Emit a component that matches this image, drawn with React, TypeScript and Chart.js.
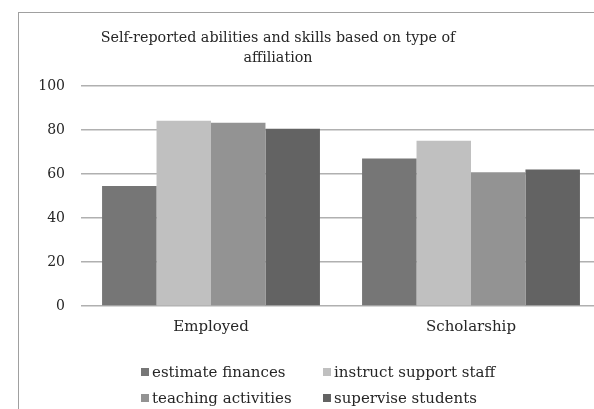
import React, { useEffect, useRef } from "react";
import { Chart, registerables } from "chart.js";

Chart.register(...registerables);

const categories = ["Employed", "Scholarship"];
const seriesNames = [
  "estimate finances",
  "instruct support staff",
  "teaching activities",
  "supervise students",
];
const estimateFinances = [54.5, 67.1];
const instructSupportStaff = [84.2, 75.1];
const teachingActivities = [83.3, 60.8];
const superviseStudents = [80.6, 62.1];
const seriesColors = ["#767676", "#c0c0c0", "#939393", "#636363"];
const titleLines = ["Self-reported abilities and skills based on type of", "affiliation"];
const yMin = 0;
const yMax = 100;
const yStep = 20;

const FONT = '"DejaVu Serif", serif';
const TEXT = "#262626";

const overlayPlugin = {
  id: "overlay",
  afterDraw(chart: any) {
    const ctx = chart.ctx;
    ctx.save();
    ctx.font = `14.3px ${FONT}`;
    ctx.fillStyle = TEXT;
    ctx.textAlign = "center";
    ctx.textBaseline = "alphabetic";
    titleLines.forEach((l, i) => ctx.fillText(l, 259, 28.5 + i * 20.5));
    const colX = [122, 304];
    const rowY = [359, 385];
    ctx.font = `15px ${FONT}`;
    chart.data.datasets.forEach((ds: any, i: number) => {
      const x = colX[i % 2];
      const y = rowY[Math.floor(i / 2)];
      ctx.fillStyle = ds.backgroundColor;
      ctx.fillRect(x, y - 4, 8, 8);
      ctx.fillStyle = TEXT;
      ctx.textAlign = "left";
      ctx.textBaseline = "middle";
      ctx.fillText(ds.label, x + 11, y + 1);
    });
    ctx.restore();
  },
};

export default function App() {
  const ref = useRef<HTMLCanvasElement>(null);
  useEffect(() => {
    if (!ref.current) return;
    const seriesData = [estimateFinances, instructSupportStaff, teachingActivities, superviseStudents];
    const chart = new Chart(ref.current, {
      type: "bar",
      data: {
        labels: categories,
        datasets: seriesNames.map((name, i) => ({
          label: name,
          data: seriesData[i],
          backgroundColor: seriesColors[i],
          borderWidth: 0,
          categoryPercentage: 0.838,
          barPercentage: 1,
        })),
      },
      options: {
        animation: false,
        responsive: false,
        devicePixelRatio: 1,
        layout: { padding: { left: 0, top: 73, right: 38, bottom: 0 } },
        plugins: {
          legend: { display: false },
          title: { display: false },
          tooltip: { enabled: false },
        },
        scales: {
          x: {
            grid: { display: false, drawTicks: false },
            border: { display: false },
            ticks: { color: TEXT, font: { family: FONT, size: 15 }, padding: 12 },
            afterFit: (s: any) => {
              s.height = 103;
            },
          },
          y: {
            min: yMin,
            max: yMax,
            grid: { color: "#b0b0b0", lineWidth: 1.5, drawTicks: false },
            border: { display: false },
            ticks: { stepSize: yStep, color: TEXT, font: { family: FONT, size: 14 }, padding: 16 },
            afterFit: (s: any) => {
              s.width = 62;
            },
          },
        },
      },
      plugins: [overlayPlugin],
    });
    return () => chart.destroy();
  }, []);
  return (
    <div
      style={{
        position: "fixed",
        left: 18,
        top: 12,
        width: 576,
        height: 397,
        overflow: "hidden",
        borderLeft: "1px solid #a0a0a0",
        borderTop: "1px solid #a0a0a0",
        background: "#fff",
      }}
    >
      <canvas ref={ref} width={620} height={396} style={{ display: "block", width: 620, height: 396 }} />
    </div>
  );
}
